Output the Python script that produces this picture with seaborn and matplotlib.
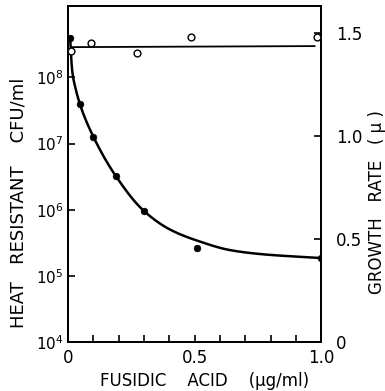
import numpy as np
import seaborn as sns
import matplotlib.pyplot as plt
from matplotlib.ticker import FixedLocator, MultipleLocator

# data
dose = [0.008, 0.047, 0.1, 0.19, 0.30, 0.51, 1.0]
cfu = [3.9e8, 3.9e7, 1.26e7, 3.2e6, 9.5e5, 2.65e5, 1.86e5]

rate_dose = [0.012, 0.091, 0.273, 0.486, 0.984]
rate = [1.41, 1.45, 1.40, 1.48, 1.48]

# hand drawn curve through the cfu points (log10 values)
curve_dose = [0.008, 0.016, 0.03, 0.047, 0.1, 0.19, 0.3, 0.403, 0.52, 0.64, 0.76, 1.0]
curve_log = [8.59, 8.1, 7.82, 7.59, 7.1, 6.5, 5.98, 5.70, 5.52, 5.39, 5.33, 5.27]

# horizontal line through growth rates
rate_line_dose = [0.012, 0.975]
rate_line = [1.43, 1.435]


def pchip(x, y, xs):
    # monotone cubic through the read-off curve points
    x = np.asarray(x, float)
    y = np.asarray(y, float)
    h = np.diff(x)
    d = np.diff(y) / h
    m = np.zeros_like(y)
    m[0], m[-1] = d[0], d[-1]
    for i in range(1, len(x) - 1):
        if d[i - 1] * d[i] > 0:
            w1 = 2 * h[i] + h[i - 1]
            w2 = h[i] + 2 * h[i - 1]
            m[i] = (w1 + w2) / (w1 / d[i - 1] + w2 / d[i])
    i = np.clip(np.searchsorted(x, xs) - 1, 0, len(h) - 1)
    t = (xs - x[i]) / h[i]
    return ((2 * t**3 - 3 * t**2 + 1) * y[i] + (t**3 - 2 * t**2 + t) * h[i] * m[i]
            + (-2 * t**3 + 3 * t**2) * y[i + 1] + (t**3 - t**2) * h[i] * m[i + 1])


sns.set_style("ticks")
plt.rcParams["font.family"] = ["DejaVu Sans"]
plt.rcParams["text.color"] = "black"
plt.rcParams["axes.labelcolor"] = "black"
plt.rcParams["xtick.color"] = "black"
plt.rcParams["ytick.color"] = "black"

fig = plt.figure(figsize=(3.85, 3.91), dpi=100)
ax = fig.add_axes([0.177, 0.125, 0.657, 0.86])

# smooth the drawn curve in sqrt(dose) space
s = np.sqrt(curve_dose)
ss = np.linspace(s[0], s[-1], 400)
xs = ss ** 2
ys = 10 ** pchip(s, curve_log, ss)
sns.lineplot(x=xs, y=ys, ax=ax, color="black", lw=1.8, sort=False)
sns.scatterplot(x=dose, y=cfu, ax=ax, color="black", s=24, edgecolor="black", zorder=5)

ax.set_yscale("log")
ax.set_ylim(1e4, 1.2e9)
ax.set_xlim(0, 1.0)
ax.yaxis.set_major_locator(FixedLocator([1e4, 1e5, 1e6, 1e7, 1e8]))
ax.yaxis.set_minor_locator(FixedLocator([]))
ax.set_yticklabels([r"$10^4$", r"$10^5$", r"$10^6$", r"$10^7$", r"$10^8$"])
ax.xaxis.set_major_locator(FixedLocator([0, 0.5, 1.0]))
ax.xaxis.set_minor_locator(MultipleLocator(0.1))
ax.set_xticklabels(["0", "0.5", "1.0"])
ax.tick_params(which="both", direction="in", length=5, width=1.2, labelsize=11)
ax.tick_params(axis="x", labelsize=12, pad=5)

ax.set_xlabel("FUSIDIC    ACID    (μg/ml)", fontsize=12)
ax.xaxis.set_label_coords(0.54, -0.088)
ax.set_ylabel("HEAT   RESISTANT    CFU/ml", fontsize=13)
ax.yaxis.set_label_coords(-0.16, 0.415)

ax2 = ax.twinx()
sns.lineplot(x=rate_line_dose, y=rate_line, ax=ax2, color="black", lw=1.3)
sns.scatterplot(x=rate_dose, y=rate, ax=ax2, facecolor="white", edgecolor="black",
                s=24, linewidth=1.0, zorder=5)
ax2.set_ylim(0, 1.63)
ax2.yaxis.set_major_locator(FixedLocator([0, 0.5, 1.0, 1.5]))
ax2.set_yticklabels(["0", "0.5", "1.0", "1.5"])
ax2.tick_params(direction="in", length=5, width=1.2, labelsize=12, pad=11)
ax2.set_ylabel("GROWTH   RATE   ( μ )", fontsize=12)
ax2.yaxis.set_label_coords(1.185, 0.417)

for a in (ax, ax2):
    for sp in a.spines.values():
        sp.set_visible(True)
        sp.set_linewidth(1.4)
        sp.set_color("black")

fig.savefig("out.png", dpi=100)
